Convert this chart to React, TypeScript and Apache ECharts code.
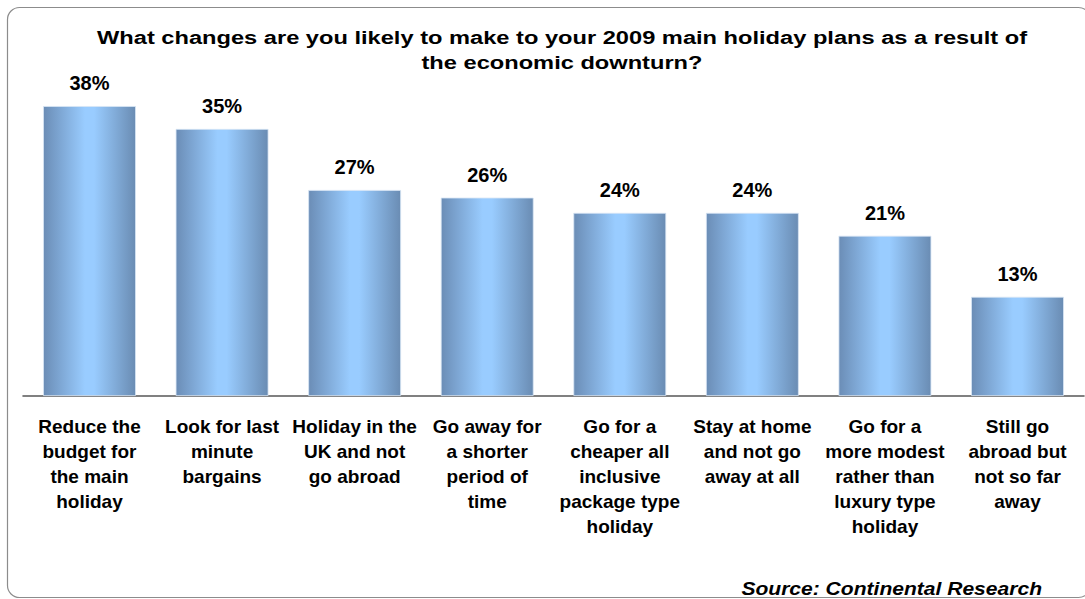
import React, { useEffect, useRef } from "react";
import * as echarts from "echarts";

const categories = [
  "Reduce the\nbudget for\nthe main\nholiday",
  "Look for last\nminute\nbargains",
  "Holiday in the\nUK and not\ngo abroad",
  "Go away for\na shorter\nperiod of\ntime",
  "Go for a\ncheaper all\ninclusive\npackage type\nholiday",
  "Stay at home\nand not go\naway at all",
  "Go for a\nmore modest\nrather than\nluxury type\nholiday",
  "Still go\nabroad but\nnot so far\naway",
];
const values = [38, 35, 27, 26, 24, 24, 21, 13];
const titleText =
  "What changes are you likely to make to your 2009 main holiday plans as a result of\nthe economic downturn?";
const sourceText = "Source: Continental Research";

const FONT = "Liberation Sans, Arial, sans-serif";

export default function App() {
  const ref = useRef<HTMLDivElement>(null);
  useEffect(() => {
    if (!ref.current) return;
    const chart = echarts.init(ref.current, undefined, { renderer: "svg" });
    const barGradient = new echarts.graphic.LinearGradient(0, 0, 1, 0, [
      { offset: 0, color: "#6b8db6" },
      { offset: 0.45, color: "#99ccff" },
      { offset: 0.55, color: "#99ccff" },
      { offset: 1, color: "#6a8cb3" },
    ]);
    chart.setOption({
      animation: false,
      backgroundColor: "#ffffff",
      graphic: [
        {
          type: "rect",
          shape: { x: 7.5, y: 7.5, width: 1083, height: 590, r: 12 },
          style: { fill: "none", stroke: "#8c8c8c", lineWidth: 1.2 },
          z: 0,
        },
        {
          type: "text",
          x: 562,
          y: 25,
          scaleX: 1.245,
          style: {
            text: titleText,
            font: "bold 19px " + FONT,
            lineHeight: 25,
            fill: "#000",
            align: "center",
            verticalAlign: "top",
          },
        },
        {
          type: "text",
          x: 1042,
          y: 589,
          scaleX: 1.17,
          style: {
            text: sourceText,
            font: "italic bold 18px " + FONT,
            fill: "#000",
            align: "right",
            verticalAlign: "middle",
          },
        },
      ],
      grid: { left: 23.2, right: 1.2, top: 90.8, bottom: 203 },
      xAxis: {
        type: "category",
        data: categories,
        axisLine: { show: true, lineStyle: { color: "#808080", width: 2 } },
        axisTick: { show: false },
        axisLabel: {
          interval: 0,
          margin: 18,
          fontFamily: FONT,
          fontSize: 19,
          fontWeight: "bold",
          color: "#000",
          lineHeight: 25,
        },
      },
      yAxis: {
        type: "value",
        min: 0,
        max: 40,
        show: false,
        splitLine: { show: false },
      },
      series: [
        {
          type: "bar",
          data: values,
          barWidth: "70%",
          itemStyle: {
            color: barGradient,
            borderColor: "#d8e6f5",
            borderWidth: 0.8,
          },
          label: {
            show: true,
            position: "top",
            distance: 13,
            formatter: "{c}%",
            fontFamily: FONT,
            fontSize: 20,
            fontWeight: "bold",
            color: "#000",
          },
        },
      ],
    });
    return () => chart.dispose();
  }, []);
  return (
    <div
      ref={ref}
      style={{ width: 1085, height: 599, position: "absolute", left: 0, top: 0 }}
    />
  );
}
